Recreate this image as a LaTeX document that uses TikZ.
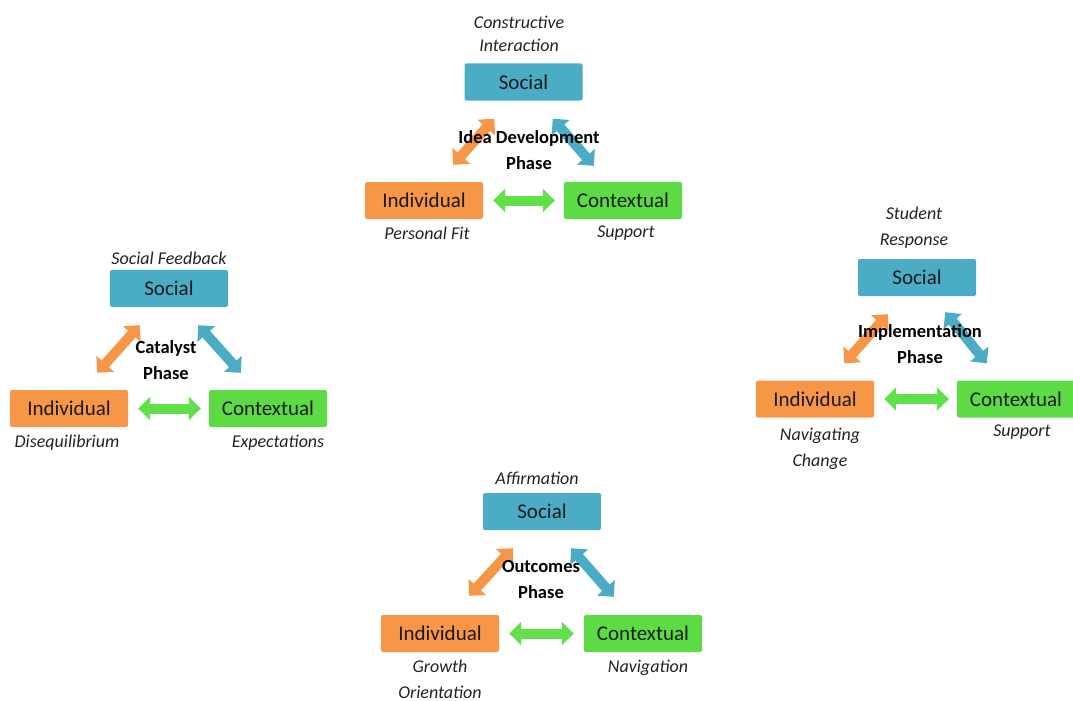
\documentclass[tikz,border=0pt]{standalone}
\usepackage{fontspec}
\setmainfont{Carlito}
\usetikzlibrary{arrows.meta}

\definecolor{socblue}{HTML}{4BACC6}
\definecolor{indorange}{HTML}{F79646}
\definecolor{ctxgreen}{HTML}{5CDB45}
\definecolor{arrgreen}{HTML}{62E04A}
\definecolor{boxtext}{HTML}{1A1A1A}
\definecolor{notetext}{HTML}{222222}

\tikzset{
  box/.style={minimum width=118pt, minimum height=37pt, rounded corners=2pt,
    inner sep=0pt, text=boxtext, font=\fontsize{21}{25}\selectfont},
  socbox/.style={box, fill=socblue},
  indbox/.style={box, fill=indorange},
  ctxbox/.style={box, fill=ctxgreen},
  note/.style={font=\itshape\fontsize{18}{26}\selectfont, text=notetext,
    align=center, inner sep=0pt},
  phase/.style={font=\bfseries\fontsize{18.5}{26}\selectfont, align=center,
    inner sep=0pt},
  link/.style={line width=10pt,
    {Triangle[width=23pt,length=12pt]}-{Triangle[width=23pt,length=12pt]}},
}

\begin{document}
\begin{tikzpicture}[x=1pt, y=-1pt]
\useasboundingbox (0,0) rectangle (1073,701);

% ---------- Idea Development Phase ----------
\node[socbox] (s1) at (523.5,82) {Social};
\node[indbox] (i1) at (424,200.5) {Individual};
\node[ctxbox] (c1) at (623,200.5) {Contextual};
\draw[link, indorange] ([xshift=-30pt,yshift=17pt]i1.north east) -- ([xshift=30pt,yshift=-18pt]s1.south west);
\draw[link, socblue] ([xshift=-30pt,yshift=-18pt]s1.south east) -- ([xshift=30pt,yshift=16pt]c1.north west);
\draw[link, arrgreen, shorten <=10pt, shorten >=9pt] (i1.east) -- (c1.west);
\node[note, font=\itshape\fontsize{18}{23}\selectfont] (n1) at (519,33.5) {Constructive\\Interaction};
\node[phase] (p1) at (529,150) {Idea Development\\Phase};
\node[note] (f1) at (427,233) {Personal Fit};
\node[note] (g1) at (626,233) {Support};

% ---------- Catalyst Phase ----------
\node[socbox] (s2) at (169,288.5) {Social};
\node[indbox] (i2) at (69,408.5) {Individual};
\node[ctxbox] (c2) at (268,408.5) {Contextual};
\draw[link, indorange] ([xshift=-31pt,yshift=17pt]i2.north east) -- ([xshift=30pt,yshift=-18pt]s2.south west);
\draw[link, socblue] ([xshift=-30pt,yshift=-18pt]s2.south east) -- ([xshift=32pt,yshift=17pt]c2.north west);
\draw[link, arrgreen, shorten <=10pt, shorten >=8pt] (i2.east) -- (c2.west);
\node[note] (n2) at (169,258) {Social Feedback};
\node[phase] (p2) at (166,360) {Catalyst\\Phase};
\node[note] (f2) at (67,443) {Disequilibrium};
\node[note] (g2) at (278,443) {Expectations};

% ---------- Implementation Phase ----------
\node[socbox] (s3) at (917,277.5) {Social};
\node[indbox] (i3) at (815,399) {Individual};
\node[ctxbox] (c3) at (1016,399) {Contextual};
\draw[link, indorange] ([xshift=-30pt,yshift=17pt]i3.north east) -- ([xshift=30pt,yshift=-18pt]s3.south west);
\draw[link, socblue] ([xshift=-31pt,yshift=-16pt]s3.south east) -- ([xshift=30pt,yshift=17pt]c3.north west);
\draw[link, arrgreen, shorten <=10pt, shorten >=8pt] (i3.east) -- (c3.west);
\node[note] (n3) at (914,228) {Student\\Response};
\node[phase] (p3) at (920,344) {Implementation\\Phase};
\node[note] (f3) at (820,449) {Navigating\\Change};
\node[note] (g3) at (1022,432) {Support};

% ---------- Outcomes Phase ----------
\node[socbox] (s4) at (542,511.5) {Social};
\node[indbox] (i4) at (440,633.5) {Individual};
\node[ctxbox] (c4) at (643,633.5) {Contextual};
\draw[link, indorange] ([xshift=-30pt,yshift=19pt]i4.north east) -- ([xshift=30pt,yshift=-18pt]s4.south west);
\draw[link, socblue] ([xshift=-30pt,yshift=-18pt]s4.south east) -- ([xshift=30pt,yshift=18pt]c4.north west);
\draw[link, arrgreen, shorten <=10pt, shorten >=10pt] (i4.east) -- (c4.west);
\node[note] (n4) at (537,478) {Affirmation};
\node[phase] (p4) at (541,579) {Outcomes\\Phase};
\node[note] (f4) at (440,679) {Growth\\Orientation};
\node[note] (g4) at (648,668) {Navigation};
\end{tikzpicture}
\end{document}
